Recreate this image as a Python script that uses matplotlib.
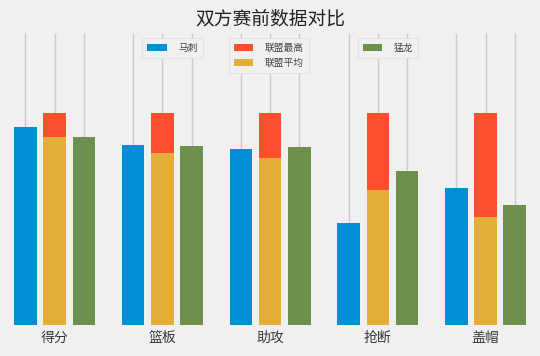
import numpy as np
import matplotlib
matplotlib.use("Agg")
import matplotlib.pyplot as plt

plt.style.use("fivethirtyeight")
plt.rcParams["font.family"] = ["Noto Sans CJK SC", "DejaVu Sans"]

# data (ratio to league max)
categories = ["得分", "篮板", "助攻", "抢断", "盖帽"]
spurs = [0.934, 0.852, 0.830, 0.481, 0.649]
league_max = [1.0, 1.0, 1.0, 1.0, 1.0]
league_avg = [0.890, 0.814, 0.789, 0.637, 0.509]
raptors = [0.887, 0.847, 0.842, 0.728, 0.567]

x = np.arange(len(categories))
off = 0.2715
w = 0.209

fig = plt.figure(figsize=(5.4, 3.56), dpi=100)
fig.patch.set_facecolor("#f0f0f0")
ax = fig.add_axes([4 / 540, 30.7 / 356, 532 / 540, 292 / 356])
ax.set_facecolor("#f0f0f0")

b1 = ax.bar(x - off, spurs, w, color="#008fd5", label="马刺", zorder=2)
b2 = ax.bar(x, league_max, w, color="#fc4f30", label="联盟最高", zorder=2)
b3 = ax.bar(x, league_avg, w, color="#e5ae38", label="联盟平均", zorder=3)
b4 = ax.bar(x + off, raptors, w, color="#6d904f", label="猛龙", zorder=2)

ticks = np.concatenate([x - off, x, x + off])
order = np.argsort(ticks)
labels = [""] * len(x) + categories + [""] * len(x)
ax.set_xticks(ticks[order])
ax.set_xticklabels([labels[i] for i in order], fontsize=10, color="#3a3a3a")
ax.tick_params(axis="x", length=0, pad=4)
ax.set_yticks([])
ax.grid(axis="x", color="#cbcbcb", linewidth=1.0, zorder=0)
ax.set_axisbelow(True)
for s in ax.spines.values():
    s.set_visible(False)

ax.set_xlim((4 - 54.7) / 107.7, (536 - 54.7) / 107.7)
ax.set_ylim(0, 292 / 212)

leg_kw = dict(fontsize=7, frameon=True, facecolor="#f0f0f0", edgecolor="#dddddd",
              framealpha=1.0, borderpad=0.5, handletextpad=1.2, labelcolor="#444444")
l1 = ax.legend(handles=[b1], loc="upper left", bbox_to_anchor=(133.4 / 532, 1.0), **leg_kw)
ax.add_artist(l1)
l2 = ax.legend(handles=[b2, b3], loc="upper left", bbox_to_anchor=(220 / 532, 1.0), **leg_kw)
ax.add_artist(l2)
l3 = ax.legend(handles=[b4], loc="upper left", bbox_to_anchor=(348.8 / 532, 1.0), **leg_kw)

fig.text(0.5, 1 - 19 / 356, "双方赛前数据对比", fontsize=13.5, ha="center", va="center",
         color="#222222")

fig.savefig("out.png", dpi=100, facecolor="#f0f0f0")
